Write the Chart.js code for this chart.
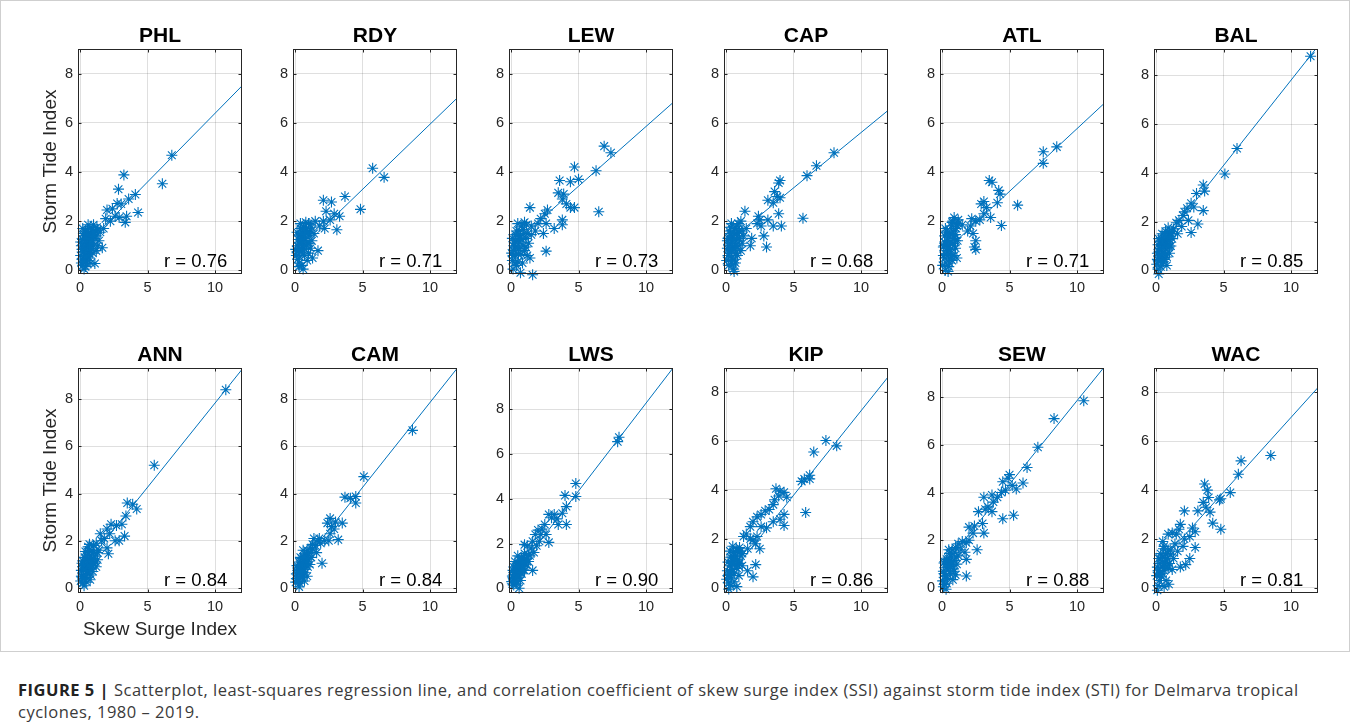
<!DOCTYPE html>
<html><head><meta charset="utf-8">
<script src="https://cdn.jsdelivr.net/npm/chart.js@4.4.1/dist/chart.umd.min.js"></script>
<style>
html,body{margin:0;padding:0;background:#fff;}
body{width:1358px;height:728px;position:relative;overflow:hidden;font-family:"Liberation Sans",Arial,sans-serif;}
#frame{position:absolute;left:0;top:0;width:1350px;height:652px;border:1px solid #cfcfcf;box-sizing:border-box;}
canvas{position:absolute;}
#caption{position:absolute;left:18px;top:679px;white-space:nowrap;font-family:"Open Sans",sans-serif;font-size:16.5px;letter-spacing:0.5px;line-height:22px;color:#3a3a3a;}
#caption b{color:#222;}
</style></head><body>
<div id="frame"></div>
<div id="caption"><b>FIGURE 5 |</b> Scatterplot, least-squares regression line, and correlation coefficient of skew surge index (SSI) against storm tide index (STI) for Delmarva tropical<br>cyclones, 1980 – 2019.</div>
<script>
// ---------- data ----------
const stations = ['PHL','RDY','LEW','CAP','ATL','BAL','ANN','CAM','LWS','KIP','SEW','WAC'];
const rValues  = ['0.76','0.71','0.73','0.68','0.71','0.85','0.84','0.84','0.90','0.86','0.88','0.81'];
const fitX     = [0, 12];
const fitStartY = [0.80, 0.64, 0.99, 1.10, 0.66, 0.80, 0.70, 0.66, 0.42, 0.33, 0.85, 0.86];
const fitEndY   = [7.50, 7.00, 6.82, 6.50, 6.78, 9.20, 9.26, 9.30, 9.84, 8.61, 9.25, 8.20];
const yMaxes    = [9.0, 9.0, 9.0, 9.0, 9.0, 9.08, 9.32, 9.32, 9.84, 8.98, 9.22, 9.0];
const yMins     = [-0.15,-0.15,-0.15,-0.15,-0.15,-0.15,-0.21,-0.21,-0.21,-0.21,-0.21,-0.21];
const xRange    = [-0.15, 12];
const xTicks    = [0, 5, 10];
const yTicks    = [0, 2, 4, 6, 8];
const yAxisTitle = 'Storm Tide Index';
const xAxisTitle = 'Skew Surge Index';

const phl = [[6.8,4.68],[6.1,3.52],[3.25,3.88],[2.85,3.3],[2.75,2.72],[3.05,2.7],[3.6,2.9],[4.1,3.08],[4.3,2.35],[3.45,2.2],[3.35,1.95],[2.4,2.5],[2.0,2.45],[1.9,2.1],[2.25,2.0],[2.6,2.2],[2.9,2.15],[1.75,1.7],[1.5,1.55],[1.65,0.92],[1.1,0.28],[1.0,1.85],[0.8,1.75],[1.3,1.65],[1.2,1.4],[1.4,1.2],
 [0.1,1.0],[0.05,0.6],[0.2,0.2],[0.3,0.05],[0.4,0.4],[0.5,0.8],[0.6,1.1],[0.7,1.3],[0.8,0.9],[0.9,1.2],[0.3,1.4],[0.2,1.7],[0.4,1.6],[0.6,1.5],[0.5,0.3],[0.15,0.45],[0.25,0.75],[0.35,1.1],[0.45,1.25],[0.55,0.55],[0.65,0.7],[0.75,1.55],[0.85,1.45],[0.95,0.7],[1.0,1.0],[1.1,1.3],[1.2,0.8],[1.3,1.0],[0.1,0.3],[0.3,0.9],[0.4,0.15],[0.7,0.5],[0.2,1.25],[0.6,1.85],[1.15,1.6],[0.9,1.65],[0.05,1.15],[0.5,1.0],[0.8,0.3],[0.35,0.6],
 [0.15,0.85],[0.25,1.5],[0.45,0.95],[0.55,1.35],[0.65,1.2],[0.75,0.8],[0.85,1.1],[0.95,1.4],[1.05,1.55],[0.35,1.3],[0.55,1.65],[0.25,0.35],[0.7,1.0],[1.25,1.75],[0.45,0.55]];
const rdy = [[5.75,4.15],[6.6,3.78],[3.7,3.0],[4.85,2.48],[2.1,2.85],[2.7,2.78],[2.3,2.4],[2.9,2.3],[3.3,2.2],[2.6,2.05],[3.1,1.65],[2.1,2.0],[1.8,1.8],[1.5,2.0],[1.7,0.8],[1.3,0.5],[1.2,1.6],[1.4,1.5],[1.0,1.9],[2.2,1.7],
 [0.1,0.6],[0.2,1.0],[0.3,1.4],[0.4,1.7],[0.5,0.2],[0.6,0.05],[0.3,0.3],[0.15,1.55],[0.25,0.8],[0.45,1.15],[0.55,1.5],[0.65,0.9],[0.75,1.3],[0.85,1.7],[0.95,1.1],[1.05,1.4],[1.15,0.9],[0.8,1.95],[0.7,0.6],[0.9,0.4],[0.35,0.55],[0.4,1.9],[0.5,1.05],[0.6,1.3],[1.0,0.7],[1.25,1.2],[0.2,0.45],[0.3,1.1],[0.05,0.85],[0.65,1.75],[1.1,1.85],[0.45,0.75],
 [0.15,0.75],[0.25,1.25],[0.35,0.9],[0.45,1.45],[0.55,0.85],[0.65,1.2],[0.75,1.6],[0.85,1.0],[0.95,1.55],[1.05,1.1],[0.5,1.7],[0.7,1.45],[0.3,0.15],[1.2,1.75],[0.4,1.25]];
const lew = [[6.9,5.05],[7.4,4.78],[4.7,4.2],[6.3,4.05],[3.6,3.65],[4.4,3.6],[5.0,3.7],[3.5,3.15],[3.9,3.1],[3.8,2.9],[4.1,2.7],[4.4,2.55],[4.7,2.55],[3.8,2.05],[3.8,1.85],[6.5,2.38],[3.2,1.7],[2.7,2.45],[2.5,2.3],[2.2,2.1],[2.6,1.9],[2.4,1.5],[2.6,0.78],[1.4,2.55],[1.6,-0.18],[0.7,-0.1],[2.0,1.9],[1.8,1.6],[1.5,1.8],
 [0.1,0.4],[0.2,0.8],[0.3,1.2],[0.4,1.6],[0.5,1.9],[0.1,1.3],[0.15,0.05],[0.3,0.6],[0.5,0.35],[0.6,0.9],[0.7,1.4],[0.8,1.8],[0.9,1.0],[1.0,1.95],[1.1,1.3],[1.2,0.6],[1.3,1.1],[1.4,0.5],[1.5,1.45],[0.4,0.2],[0.6,1.6],[0.75,0.65],[0.9,1.65],[1.15,1.85],[0.2,1.0],[0.35,0.95],[0.55,1.2],[1.0,0.8],[1.25,1.5],[0.05,0.7],[0.45,1.4],[0.85,0.3],
 [0.15,0.6],[0.25,1.1],[0.35,1.45],[0.45,0.9],[0.55,0.65],[0.65,1.15],[0.8,1.25],[0.95,1.5],[1.1,0.95],[0.3,0.3]];
const cap = [[8.0,4.78],[6.7,4.25],[6.0,3.85],[4.0,3.65],[3.9,3.55],[3.6,3.2],[3.1,2.85],[3.5,2.75],[3.8,3.0],[4.0,2.95],[3.9,2.3],[4.1,1.8],[3.5,1.8],[3.0,0.95],[2.8,1.4],[5.7,2.12],[2.4,2.2],[2.6,1.8],[2.3,1.9],[2.5,2.05],[3.1,2.05],[1.4,2.4],[1.1,2.0],[1.2,1.6],[1.5,1.7],[1.8,1.0],[1.9,1.3],
 [0.05,0.4],[0.1,0.9],[0.15,1.3],[0.2,0.2],[0.25,1.6],[0.3,0.7],[0.35,1.1],[0.4,1.9],[0.45,0.5],[0.5,1.4],[0.55,0.05],[0.6,0.9],[0.65,1.7],[0.7,0.3],[0.75,1.2],[0.8,1.5],[0.85,0.6],[0.9,1.9],[0.95,1.0],[1.0,1.3],[0.3,1.5],[0.5,0.25],[0.6,-0.05],[0.2,1.0],[0.4,0.8],[0.7,0.7],[1.1,0.8],[0.15,0.6],[0.45,1.2],[0.9,1.6],[1.2,1.1],[0.35,1.75],
 [0.1,1.2],[0.2,0.6],[0.3,1.3],[0.4,0.35],[0.5,0.95],[0.6,1.25],[0.7,1.0],[0.8,1.8],[0.9,1.3],[1.0,1.6],[0.25,0.9],[0.55,1.55],[0.65,0.45],[0.75,0.9],[1.3,1.4]];
const atl = [[8.5,5.02],[7.5,4.82],[7.5,4.35],[3.5,3.65],[3.7,3.58],[4.2,3.25],[4.3,3.1],[4.1,2.75],[2.9,2.7],[3.1,2.8],[3.3,2.55],[3.1,2.3],[3.6,2.15],[4.4,1.82],[5.6,2.65],[2.8,2.05],[2.5,2.0],[2.2,2.1],[2.1,1.8],[2.3,1.5],[2.5,1.2],[2.5,0.85],[2.4,0.95],[1.9,1.6],[1.5,1.85],[1.2,2.05],[0.9,2.15],[0.8,2.0],
 [0.05,0.2],[0.1,0.6],[0.15,1.0],[0.2,1.4],[0.25,1.7],[0.3,0.3],[0.35,0.8],[0.4,1.2],[0.45,-0.05],[0.5,0.5],[0.55,1.0],[0.6,1.5],[0.65,0.7],[0.7,1.8],[0.75,0.4],[0.8,1.1],[0.85,1.6],[0.9,0.6],[0.95,1.3],[1.0,0.9],[1.05,1.7],[1.1,0.5],[1.15,1.2],[1.2,1.9],[0.3,1.05],[0.5,0.15],[0.6,0.85],[0.4,1.55],[0.2,0.5],[1.0,1.45],
 [0.1,0.95],[0.2,1.15],[0.3,0.65],[0.4,0.9],[0.5,1.35],[0.6,1.15],[0.7,0.55],[0.8,1.45],[0.9,1.0],[1.0,1.2],[1.1,1.8],[0.25,0.0],[0.55,0.3],[0.75,1.95],[0.35,1.6]];
const bal = [[11.45,8.78],[6.0,5.0],[5.1,3.95],[3.5,3.5],[3.6,3.25],[3.0,3.15],[3.5,2.45],[3.1,1.9],[2.6,1.55],[2.8,2.6],[2.6,2.75],[2.3,2.55],[2.1,2.4],[2.0,2.25],[2.4,2.05],[1.9,1.8],[1.7,2.05],[1.5,1.95],[1.6,1.5],[1.3,1.7],[1.2,1.3],[1.0,1.55],[0.8,0.2],[0.2,-0.15],
 [0.05,0.25],[0.1,0.7],[0.15,1.05],[0.2,0.4],[0.25,0.9],[0.3,1.2],[0.35,0.15],[0.4,0.6],[0.45,1.5],[0.5,1.0],[0.55,0.35],[0.6,1.3],[0.65,0.8],[0.7,1.6],[0.75,1.1],[0.8,0.55],[0.85,1.4],[0.9,1.75],[0.95,0.95],[1.0,1.25],[1.1,1.0],[1.15,1.5],[0.3,0.55],[0.5,0.7],[0.2,1.3],[0.6,0.45],[0.4,1.05],[0.7,1.2],[1.0,0.7],[0.15,0.05],
 [0.1,0.45],[0.2,0.75],[0.3,0.9],[0.4,1.3],[0.5,0.45],[0.6,0.95],[0.7,0.65],[0.8,1.3],[0.9,1.05],[1.0,1.0],[1.05,1.4],[1.2,1.6],[0.45,0.3],[0.65,1.45],[0.25,0.6]];
const ann = [[10.8,8.4],[5.5,5.2],[3.5,3.6],[3.9,3.55],[4.2,3.35],[3.4,3.05],[3.1,2.7],[3.3,2.2],[2.7,2.65],[2.3,2.7],[2.0,2.5],[2.2,2.3],[1.8,2.1],[2.6,2.0],[2.9,2.0],[2.1,1.45],[1.5,2.3],[1.6,2.0],[1.2,1.9],[1.4,1.6],[1.0,1.8],[0.7,1.85],[2.0,1.7],
 [0.05,0.3],[0.1,0.75],[0.15,1.05],[0.2,0.2],[0.25,0.55],[0.3,0.95],[0.35,1.3],[0.4,0.45],[0.45,0.8],[0.5,1.2],[0.55,1.55],[0.6,0.6],[0.65,1.0],[0.7,1.4],[0.75,0.35],[0.8,0.85],[0.85,1.25],[0.9,1.6],[0.95,0.7],[1.0,1.05],[1.1,1.35],[1.2,0.9],[1.3,1.2],[0.3,0.1],[0.5,0.25],[0.2,1.15],[0.4,1.55],[0.6,1.75],[0.8,0.55],[1.0,1.5],[0.15,0.5],
 [0.1,0.5],[0.2,0.9],[0.3,0.4],[0.4,1.0],[0.5,0.7],[0.6,1.15],[0.7,0.8],[0.8,1.2],[0.9,0.95],[1.0,1.25],[1.15,1.1],[1.3,1.5],[0.45,1.4],[0.65,1.6],[0.25,0.75]];
const cam = [[8.7,6.68],[5.1,4.72],[4.5,3.88],[3.7,3.85],[4.1,3.8],[4.5,3.6],[2.6,2.95],[3.0,2.8],[3.5,2.75],[2.4,2.75],[2.9,2.5],[2.6,2.3],[3.2,2.05],[2.0,1.05],[2.2,2.0],[2.5,2.0],[1.9,1.9],[1.7,2.0],[1.4,2.1],[1.5,1.8],[1.6,1.5],[1.3,1.65],[1.8,2.1],[2.7,2.6],
 [0.05,0.25],[0.1,0.6],[0.15,0.95],[0.2,0.4],[0.25,0.75],[0.3,1.1],[0.35,0.2],[0.4,0.55],[0.45,0.9],[0.5,1.25],[0.55,0.45],[0.6,0.8],[0.65,1.15],[0.7,1.45],[0.75,0.65],[0.8,1.0],[0.85,1.35],[0.9,1.6],[0.95,0.9],[1.0,1.2],[1.1,1.5],[1.2,1.3],[0.3,0.05],[0.5,0.6],[0.2,0.85],[0.4,1.3],[0.6,1.6],[0.9,0.5],[1.1,1.0],[0.7,0.3],
 [0.1,0.4],[0.2,0.65],[0.3,0.8],[0.4,0.95],[0.5,0.45],[0.6,1.05],[0.7,0.8],[0.8,1.25],[0.9,1.1],[1.0,1.45],[1.15,1.7],[1.3,1.85],[0.45,0.7],[0.65,1.3],[0.25,0.3]];
const lws = [[8.0,6.75],[7.9,6.55],[4.8,4.68],[4.8,4.1],[4.0,4.15],[4.1,3.65],[3.8,3.35],[4.1,2.85],[3.4,3.1],[3.5,2.85],[3.2,3.3],[2.8,3.3],[3.0,3.15],[2.5,2.85],[2.3,2.65],[2.6,2.4],[2.8,2.05],[2.2,2.4],[2.0,2.6],[1.8,2.4],[2.1,2.1],[1.9,1.9],[1.6,2.1],[1.5,1.8],[1.7,1.6],[1.4,1.45],[1.2,1.9],[1.0,1.95],[1.6,0.8],[1.3,1.2],[0.6,0.0],
 [0.05,0.3],[0.1,0.55],[0.15,0.8],[0.2,0.15],[0.25,0.45],[0.3,0.7],[0.35,0.95],[0.4,0.3],[0.45,0.6],[0.5,0.85],[0.55,1.1],[0.6,0.5],[0.65,0.75],[0.7,1.0],[0.75,1.25],[0.8,0.65],[0.85,0.9],[0.9,1.15],[0.95,1.4],[1.0,0.8],[1.1,1.05],[1.15,1.3],[0.3,1.2],[0.5,1.45],[0.2,0.95],[0.4,1.0],[0.7,0.35],[1.0,1.55],[0.8,1.35],[0.15,0.5],
 [0.1,0.2],[0.2,0.6],[0.3,0.45],[0.4,0.75],[0.5,0.6],[0.6,0.9],[0.7,0.7],[0.8,1.0],[0.9,0.85],[1.0,1.15],[1.2,1.2],[1.3,1.5],[0.45,0.2],[0.65,1.25]];
const kip = [[7.4,6.02],[8.2,5.8],[6.5,5.55],[5.8,4.45],[5.6,4.35],[6.2,4.6],[6.2,4.45],[5.9,3.08],[3.7,4.05],[4.0,3.95],[4.3,3.9],[4.5,3.7],[3.9,3.75],[3.6,3.6],[3.5,3.4],[3.2,3.2],[2.9,3.15],[2.6,3.0],[2.3,2.9],[2.0,2.7],[2.6,2.5],[3.0,2.45],[3.5,2.7],[4.0,2.8],[4.3,3.0],[4.3,2.55],[1.8,2.5],[1.5,2.2],[1.3,2.1],[1.8,2.0],[2.0,1.95],[2.3,2.1],[2.5,1.6],[2.2,1.8],[1.6,1.6],[2.2,0.95],[2.0,0.45],[1.6,0.7],[1.2,1.4],[1.0,1.65],
 [0.05,0.35],[0.1,0.7],[0.15,1.05],[0.2,0.2],[0.25,0.55],[0.3,0.9],[0.35,1.25],[0.4,0.4],[0.45,0.75],[0.5,1.1],[0.55,1.45],[0.6,0.6],[0.65,0.95],[0.7,1.3],[0.75,1.6],[0.8,0.8],[0.85,1.15],[0.9,1.5],[0.95,0.5],[1.0,1.0],[1.1,1.3],[0.2,-0.05],[0.8,0.05],[0.3,1.5],[0.5,1.7],[0.6,0.25],[1.2,0.9],[0.4,1.0],
 [0.15,0.5],[0.3,0.65],[0.45,1.3],[0.6,1.2],[0.75,1.1],[0.9,0.9],[1.05,1.5],[0.35,0.1]];
const sew = [[10.5,7.85],[8.3,7.1],[7.1,5.9],[6.3,5.05],[6.0,4.4],[5.5,4.15],[5.2,4.3],[5.0,4.75],[4.9,4.6],[4.5,4.45],[4.7,4.1],[4.4,4.0],[4.1,3.8],[3.7,3.9],[3.1,3.8],[3.8,3.6],[3.4,3.4],[3.2,3.3],[3.7,3.2],[5.3,3.05],[4.5,2.9],[2.7,3.2],[3.0,2.7],[3.1,2.3],[2.4,2.6],[2.0,2.55],[2.3,2.3],[2.6,1.6],[2.0,2.0],[1.8,1.9],[1.5,1.95],[1.7,1.5],[1.8,1.2],[1.8,0.5],[1.4,1.6],[1.2,1.85],
 [0.05,0.3],[0.1,0.7],[0.15,1.05],[0.2,0.15],[0.25,0.5],[0.3,0.85],[0.35,1.2],[0.4,0.4],[0.45,0.75],[0.5,1.1],[0.55,1.45],[0.6,0.6],[0.65,0.95],[0.7,1.3],[0.75,1.6],[0.8,0.35],[0.85,0.8],[0.9,1.15],[0.95,1.5],[1.0,0.55],[1.1,1.0],[1.2,1.35],[0.3,-0.05],[0.1,0.05],[0.5,1.6],[1.0,1.7],[0.4,1.0],[0.2,1.1],
 [0.15,0.6],[0.3,0.5],[0.45,1.25],[0.6,0.9],[0.75,1.1],[0.9,0.7],[1.05,1.3],[0.35,0.2]];
const wac = [[8.5,5.42],[6.3,5.2],[6.1,4.65],[5.5,3.9],[4.8,3.65],[4.7,3.6],[3.6,4.25],[3.8,4.0],[3.5,3.5],[3.9,3.7],[3.7,3.3],[4.0,3.1],[3.1,3.15],[2.1,3.15],[4.2,2.65],[4.8,2.4],[2.7,2.45],[2.9,2.3],[2.5,2.1],[2.9,1.65],[2.5,1.2],[1.8,2.6],[1.7,2.4],[2.1,2.0],[2.0,1.7],[1.8,0.85],[2.2,0.95],[1.5,2.2],[1.2,2.25],[1.4,1.8],[1.6,1.5],[1.3,1.2],[0.9,2.2],[0.6,1.7],
 [0.05,0.5],[0.1,0.85],[0.15,0.1],[0.2,1.2],[0.25,0.6],[0.3,1.0],[0.35,1.4],[0.4,0.45],[0.45,0.85],[0.5,1.25],[0.55,1.6],[0.6,0.7],[0.65,1.05],[0.7,1.4],[0.75,0.3],[0.8,0.9],[0.85,1.2],[0.9,1.55],[0.95,0.15],[1.0,1.0],[1.1,1.35],[0.1,-0.1],[0.6,0.05],[0.3,0.55],[1.2,0.75],[0.5,1.9],
 [0.15,0.7],[0.3,1.2],[0.45,0.6],[0.6,1.0],[0.75,1.2],[0.9,0.8],[1.05,1.55],[0.25,0.3]];
const stationPoints = [phl, rdy, lew, cap, atl, bal, ann, cam, lws, kip, sew, wac];

// ---------- layout ----------
const COLOR = '#0072BD';
const plotLefts = [78, 293, 509, 724, 940, 1154];
const plotTops = [49, 368];
const PW = 164, PH = 225;
const YW = 40, XH = 30, PADL = 30, PADT = 40, PADR = 12, PADB = 25;
const tickFont = {family: '"Liberation Sans", Arial, sans-serif', size: 14.5};

const decor = {
  id: 'decor',
  afterDraw(chart, args, o) {
    const {ctx, chartArea: a, scales: {x, y}} = chart;
    ctx.save();
    ctx.strokeStyle = '#262626';
    ctx.lineWidth = 1;
    const L = Math.round(a.left) + 0.5, T = Math.round(a.top) + 0.5, R = Math.round(a.right) - 0.5, B = Math.round(a.bottom) - 0.5;
    ctx.strokeRect(L, T, R - L, B - T);
    ctx.beginPath();
    for (const v of xTicks) {
      const p = Math.round(x.getPixelForValue(v)) + 0.5;
      ctx.moveTo(p, B); ctx.lineTo(p, B - 3);
      ctx.moveTo(p, T); ctx.lineTo(p, T + 3);
    }
    for (const v of yTicks) {
      const p = Math.round(y.getPixelForValue(v)) + 0.5;
      ctx.moveTo(L, p); ctx.lineTo(L + 3, p);
      ctx.moveTo(R, p); ctx.lineTo(R - 3, p);
    }
    ctx.stroke();
    ctx.fillStyle = '#000';
    ctx.font = 'bold 21px "Liberation Sans", Arial, sans-serif';
    ctx.textAlign = 'center';
    ctx.textBaseline = 'alphabetic';
    ctx.fillText(o.title, (a.left + a.right) / 2, a.top - 7);
    ctx.font = '18.5px "Liberation Sans", Arial, sans-serif';
    ctx.textAlign = 'left';
    ctx.fillText('r = ' + o.r, a.left + 86, a.bottom - 7.5);
    ctx.fillStyle = '#262626';
    ctx.font = '19px "Liberation Sans", Arial, sans-serif';
    if (o.yTitle) {
      ctx.save();
      ctx.translate(a.left - 27, (a.top + a.bottom) / 2);
      ctx.rotate(-Math.PI / 2);
      ctx.textAlign = 'center';
      ctx.textBaseline = 'middle';
      ctx.fillText(yAxisTitle, 0, 0);
      ctx.restore();
    }
    if (o.xTitle) {
      ctx.textAlign = 'center';
      ctx.textBaseline = 'middle';
      ctx.fillText(xAxisTitle, (a.left + a.right) / 2, a.bottom + 37);
    }
    ctx.restore();
  }
};

stations.forEach((name, i) => {
  const col = i % 6, row = Math.floor(i / 6);
  const cv = document.createElement('canvas');
  const W = PADL + YW + PW + PADR, H = PADT + PH + XH + PADB;
  cv.width = W; cv.height = H;
  cv.style.left = (plotLefts[col] - PADL - YW) + 'px';
  cv.style.top = (plotTops[row] - PADT) + 'px';
  cv.style.width = W + 'px'; cv.style.height = H + 'px';
  document.body.appendChild(cv);
  const pts = stationPoints[i].map(p => ({x: p[0], y: p[1]}));
  new Chart(cv, {
    type: 'scatter',
    data: {
      datasets: [
        {type: 'line', data: [{x: fitX[0], y: fitStartY[i]}, {x: fitX[1], y: fitEndY[i]}],
         borderColor: COLOR, borderWidth: 1, pointRadius: 0, fill: false, tension: 0},
        {data: pts, pointStyle: 'star', pointRadius: 5.5, pointBorderWidth: 1.1,
         borderColor: COLOR, backgroundColor: COLOR, clip: false}
      ]
    },
    options: {
      responsive: false, animation: false, events: [],
      layout: {padding: {left: PADL, top: PADT, right: PADR, bottom: PADB}},
      plugins: {legend: {display: false}, tooltip: {enabled: false}, title: {display: false},
        decor: {title: name, r: rValues[i], yTitle: col === 0, xTitle: i === 6}},
      scales: {
        x: {type: 'linear', min: xRange[0], max: xRange[1],
            afterBuildTicks: s => { s.ticks = xTicks.map(v => ({value: v})); },
            afterFit: s => { s.height = XH; },
            grid: {color: 'rgba(38,38,38,0.15)', drawTicks: false, lineWidth: 1},
            border: {display: false},
            ticks: {padding: 5.5, color: '#262626', font: tickFont, maxRotation: 0}},
        y: {type: 'linear', min: yMins[i], max: yMaxes[i],
            afterBuildTicks: s => { s.ticks = yTicks.map(v => ({value: v})); },
            afterFit: s => { s.width = YW; },
            grid: {color: 'rgba(38,38,38,0.15)', drawTicks: false, lineWidth: 1},
            border: {display: false},
            ticks: {padding: 5, color: '#262626', font: tickFont}}
      }
    },
    plugins: [decor]
  });
});
</script>
</body></html>
